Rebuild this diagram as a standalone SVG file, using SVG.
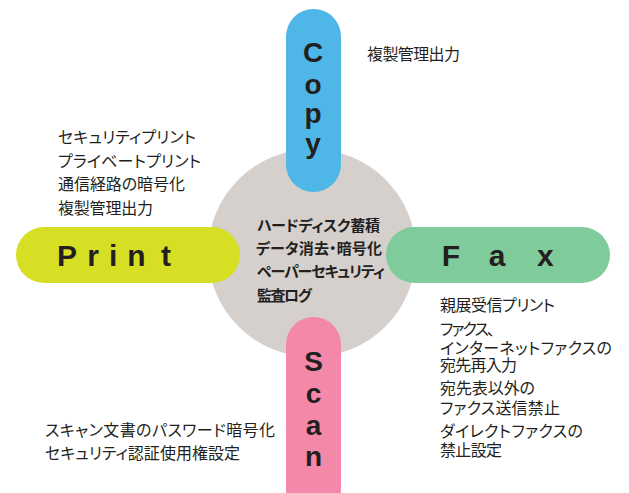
<svg xmlns="http://www.w3.org/2000/svg" width="629" height="493" viewBox="0 0 629 493">
<style>
.lbl{font-family:"Liberation Sans",Arial,sans-serif;font-weight:bold;font-size:30px;fill:#231f20}
.vl{font-family:"Liberation Sans",Arial,sans-serif;font-weight:bold;font-size:28px;fill:#231f20;text-anchor:middle}
.jp{font-family:"Noto Sans CJK JP","Noto Sans",sans-serif;font-size:16px;fill:#231f20;font-feature-settings:"palt"}
.jpb{font-family:"Noto Sans CJK JP","Noto Sans",sans-serif;font-size:15px;font-weight:bold;fill:#231f20;font-feature-settings:"palt"}
</style>
<rect width="629" height="493" fill="#ffffff"/>
<g id="node-center">
<circle cx="312" cy="253" r="104" fill="#d6d0cd"/>
<text class="jpb" x="257" y="231" textLength="123" lengthAdjust="spacing">ハードディスク蓄積</text>
<text class="jpb" x="256" y="254" textLength="126" lengthAdjust="spacing">データ消去・暗号化</text>
<text class="jpb" x="257" y="277" textLength="128" lengthAdjust="spacing">ペーパーセキュリティ</text>
<text class="jpb" x="257" y="301" textLength="55" lengthAdjust="spacing">監査ログ</text>
</g>
<g id="node-copy">
<rect x="286" y="9" width="55" height="183" rx="27.5" fill="#4fb7e8"/>
<text class="vl" x="313" y="62">C</text>
<text class="vl" x="313" y="94">o</text>
<text class="vl" x="313" y="123">p</text>
<text class="vl" x="313" y="153">y</text>
<text class="jp" x="367" y="60" textLength="93" lengthAdjust="spacing">複製管理出力</text>
</g>
<g id="node-print">
<rect x="16" y="227" width="224" height="56" rx="28" fill="#d6df23"/>
<text class="lbl" y="266"><tspan x="57">P</tspan><tspan x="87.3">r</tspan><tspan x="109">i</tspan><tspan x="127.3">n</tspan><tspan x="161">t</tspan></text>
<text class="jp" x="58" y="143" textLength="138" lengthAdjust="spacing">セキュリティプリント</text>
<text class="jp" x="58" y="166.5" textLength="143" lengthAdjust="spacing">プライベートプリント</text>
<text class="jp" x="58" y="190" textLength="127" lengthAdjust="spacing">通信経路の暗号化</text>
<text class="jp" x="58" y="213.5" textLength="95" lengthAdjust="spacing">複製管理出力</text>
</g>
<g id="node-fax">
<rect x="386" y="227" width="224" height="56" rx="28" fill="#80cb9c"/>
<text class="lbl" y="266"><tspan x="441.7">F</tspan><tspan x="488.8">a</tspan><tspan x="537">x</tspan></text>
<text class="jp" x="440" y="311" textLength="115" lengthAdjust="spacing">親展受信プリント</text>
<text class="jp" x="440" y="335" textLength="55" lengthAdjust="spacing">ファクス、</text>
<text class="jp" x="440" y="354" textLength="172" lengthAdjust="spacing">インターネットファクスの</text>
<text class="jp" x="440" y="371" textLength="77" lengthAdjust="spacing">宛先再入力</text>
<text class="jp" x="440" y="394" textLength="95" lengthAdjust="spacing">宛先表以外の</text>
<text class="jp" x="440" y="414" textLength="120" lengthAdjust="spacing">ファクス送信禁止</text>
<text class="jp" x="440" y="437" textLength="143" lengthAdjust="spacing">ダイレクトファクスの</text>
<text class="jp" x="440" y="456" textLength="62" lengthAdjust="spacing">禁止設定</text>
</g>
<g id="node-scan">
<rect x="286" y="317" width="55" height="200" rx="27.5" fill="#f388a9"/>
<text class="vl" x="313.5" y="371">S</text>
<text class="vl" x="313.5" y="403">c</text>
<text class="vl" x="313.5" y="435">a</text>
<text class="vl" x="313.5" y="466">n</text>
<text class="jp" x="45" y="436" textLength="230" lengthAdjust="spacing">スキャン文書のパスワード暗号化</text>
<text class="jp" x="45" y="459" textLength="195" lengthAdjust="spacing">セキュリティ認証使用権設定</text>
</g>
</svg>
